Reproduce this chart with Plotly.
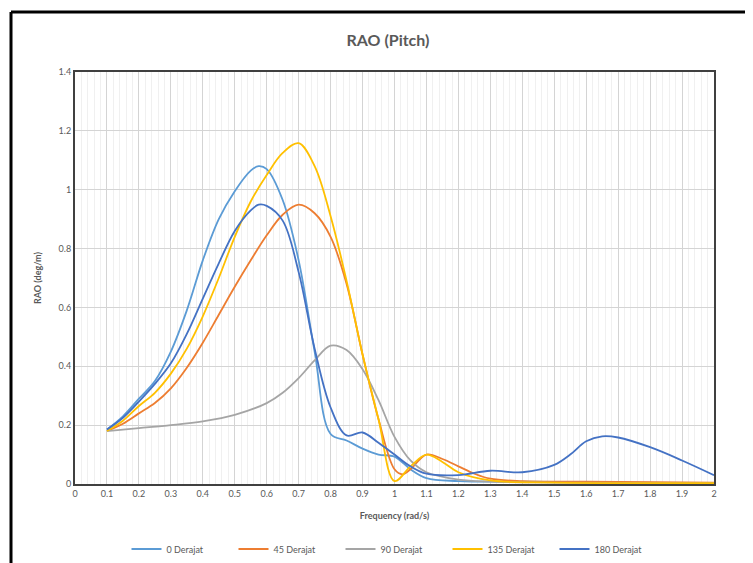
import plotly.graph_objects as go

# ---- data ----
x_0 = [0.1, 0.15, 0.2, 0.25, 0.3, 0.35, 0.4, 0.45, 0.5, 0.55, 0.575, 0.6, 0.65, 0.7, 0.75, 0.8, 0.85, 0.9, 0.95, 1.0, 1.05, 1.1, 1.2, 1.4, 1.7, 2.0]
y_0 = [0.185, 0.23, 0.29, 0.35, 0.45, 0.59, 0.76, 0.9, 0.995, 1.065, 1.08, 1.07, 0.965, 0.76, 0.45, 0.17, 0.148, 0.12, 0.1, 0.093, 0.05, 0.02, 0.01, 0.008, 0.005, 0.003]

x_45 = [0.1, 0.15, 0.2, 0.25, 0.3, 0.35, 0.4, 0.45, 0.5, 0.55, 0.6, 0.65, 0.7, 0.75, 0.8, 0.85, 0.9, 0.95, 1.0, 1.025, 1.05, 1.1, 1.15, 1.2, 1.25, 1.3, 1.4, 1.6, 2.0]
y_45 = [0.18, 0.205, 0.24, 0.275, 0.325, 0.395, 0.48, 0.575, 0.67, 0.76, 0.845, 0.915, 0.949, 0.92, 0.84, 0.68, 0.44, 0.22, 0.05, 0.033, 0.05, 0.1, 0.085, 0.06, 0.035, 0.018, 0.01, 0.008, 0.005]

x_90 = [0.1, 0.2, 0.3, 0.4, 0.5, 0.6, 0.65, 0.7, 0.75, 0.8, 0.85, 0.9, 0.95, 1.0, 1.05, 1.1, 1.2, 1.3, 1.5, 2.0]
y_90 = [0.18, 0.19, 0.2, 0.213, 0.235, 0.275, 0.31, 0.36, 0.42, 0.47, 0.455, 0.39, 0.285, 0.16, 0.08, 0.04, 0.015, 0.008, 0.005, 0.003]

x_135 = [0.1, 0.15, 0.2, 0.25, 0.3, 0.35, 0.4, 0.45, 0.5, 0.55, 0.6, 0.65, 0.7, 0.75, 0.8, 0.85, 0.9, 0.95, 1.0, 1.05, 1.1, 1.15, 1.2, 1.3, 1.5, 2.0]
y_135 = [0.18, 0.215, 0.265, 0.31, 0.375, 0.46, 0.57, 0.7, 0.84, 0.96, 1.05, 1.125, 1.158, 1.08, 0.91, 0.69, 0.44, 0.22, 0.01, 0.06, 0.1, 0.075, 0.04, 0.012, 0.005, 0.003]

x_180 = [0.1, 0.15, 0.2, 0.25, 0.3, 0.35, 0.4, 0.45, 0.5, 0.55, 0.575, 0.6, 0.65, 0.7, 0.75, 0.8, 0.85, 0.9, 0.95, 1.0, 1.05, 1.1, 1.2, 1.3, 1.4, 1.5, 1.55, 1.6, 1.65, 1.7, 1.8, 1.9, 2.0]
y_180 = [0.185, 0.225, 0.28, 0.34, 0.41, 0.51, 0.63, 0.75, 0.86, 0.93, 0.949, 0.945, 0.895, 0.72, 0.46, 0.26, 0.165, 0.175, 0.14, 0.1, 0.06, 0.035, 0.03, 0.045, 0.04, 0.065, 0.1, 0.145, 0.162, 0.158, 0.125, 0.08, 0.03]

series_names = ["0 Derajat", "45 Derajat", "90 Derajat", "135 Derajat", "180 Derajat"]
series_x = [x_0, x_45, x_90, x_135, x_180]
series_y = [y_0, y_45, y_90, y_135, y_180]
series_colors = ["#5B9BD5", "#ED7D31", "#A5A5A5", "#FFC000", "#4472C4"]

x_ticks = [round(i * 0.1, 1) for i in range(21)]
x_tick_labels = ["0", "0.1", "0.2", "0.3", "0.4", "0.5", "0.6", "0.7", "0.8", "0.9", "1",
                 "1.1", "1.2", "1.3", "1.4", "1.5", "1.6", "1.7", "1.8", "1.9", "2"]
y_ticks = [0, 0.2, 0.4, 0.6, 0.8, 1.0, 1.2, 1.4]
y_tick_labels = ["0", "0.2", "0.4", "0.6", "0.8", "1", "1.2", "1.4"]

FONT = "Lato, 'Open Sans', sans-serif"
TXT = "#595959"

fig = go.Figure()
for name, xs, ys, col in zip(series_names, series_x, series_y, series_colors):
    fig.add_trace(go.Scatter(
        x=xs, y=ys, name=name, mode="lines",
        line=dict(color=col, width=1.8, shape="spline", smoothing=1.0),
    ))

OFF = 8  # default page body margin
W, H = 753 - OFF, 563 - OFF
PW, PH = 639, 412
L, T = 75 - OFF, 72 - OFF
R, B = W - L - PW, H - T - PH

def px(xp):  # screen pixel -> paper x
    return (xp - OFF - L) / PW

def py(yp):  # screen pixel -> paper y
    return (H - B - (yp - OFF)) / PH

fig.update_layout(
    width=W, height=H,
    margin=dict(l=L, r=R, t=T, b=B, autoexpand=False),
    paper_bgcolor="white", plot_bgcolor="white",
    font=dict(family=FONT, size=9, color=TXT),
    title=dict(text="<b>RAO (Pitch)</b>", x=px(388), xanchor="center", xref="paper",
               y=1 - (40 - OFF) / H, yanchor="middle", font=dict(size=16, color=TXT, family=FONT)),
    showlegend=True,
    legend=dict(orientation="h", xref="container", yref="container",
                x=(394 - OFF) / W, xanchor="center", y=1 - (549 - OFF) / H, yanchor="middle",
                font=dict(size=9, color=TXT), itemwidth=30, entrywidth=62,
                bgcolor="rgba(0,0,0,0)"),
    xaxis=dict(
        range=[0, 2], tickmode="array", tickvals=x_ticks, ticktext=x_tick_labels,
        showgrid=True, gridcolor="#d4d4d4", gridwidth=1,
        minor=dict(dtick=0.02, showgrid=True, gridcolor="#f0f0f0", gridwidth=1),
        showline=True, linecolor="#404040", linewidth=2, mirror=True,
        zeroline=False, ticks="", tickfont=dict(size=9, color=TXT), automargin=False,
        title=dict(text="<b>Frequency (rad/s)</b>", font=dict(size=9, color=TXT)),
    ),
    yaxis=dict(
        range=[0, 1.4], tickmode="array", tickvals=y_ticks, ticktext=y_tick_labels,
        showgrid=True, gridcolor="#d4d4d4", gridwidth=1,
        showline=True, linecolor="#404040", linewidth=2, mirror=True,
        zeroline=False, ticks="", tickfont=dict(size=9, color=TXT), automargin=False,
        title=dict(text="<b>RAO (deg/m)</b>", font=dict(size=9, color=TXT)),
    ),
    shapes=[
        dict(type="line", xref="paper", yref="paper", x0=px(11), x1=px(760), y0=py(12), y1=py(12),
             line=dict(color="black", width=3)),
        dict(type="line", xref="paper", yref="paper", x0=px(11), x1=px(11), y0=py(12), y1=py(570),
             line=dict(color="black", width=3)),
    ],
)

fig.write_html("out.html")
